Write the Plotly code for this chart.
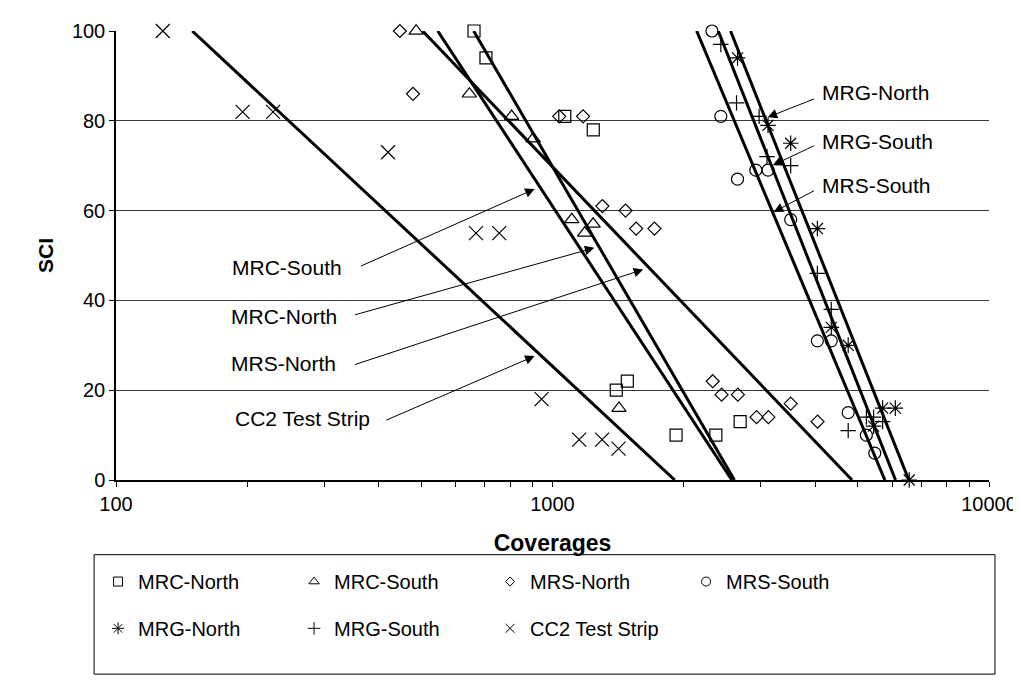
import numpy as np
import plotly.graph_objects as go

# ---------------- data ----------------
series_names = ["MRC-North", "MRC-South", "MRS-North", "MRS-South",
                "MRG-North", "MRG-South", "CC2 Test Strip"]

mrc_north_x = [661, 704, 1067, 1240, 1400, 1484, 1919, 2367, 2691]
mrc_north_y = [100, 94, 81, 78, 20, 22, 10, 10, 13]

mrc_south_x = [487, 645, 806, 903, 1107, 1185, 1239, 1420]
mrc_south_y = [100, 86, 81, 76, 58, 55, 57, 16]

mrs_north_x = [447, 479, 1036, 1175, 1301, 1470, 1555, 1712, 2328, 2440,
               2659, 2934, 3124, 3513, 4049]
mrs_north_y = [100, 86, 81, 81, 61, 60, 56, 56, 22, 19, 19, 14, 14, 17, 13]

mrs_south_x = [2319, 2430, 2654, 2923, 3117, 3513, 4044, 4351, 4758, 5237, 5474]
mrs_south_y = [100, 81, 67, 69, 69, 58, 31, 31, 15, 10, 6]

mrg_north_x = [2654, 3117, 3513, 4044, 4351, 4758, 5440, 5706, 6100, 6566]
mrg_north_y = [94, 79, 75, 56, 34, 30, 12, 16, 16, 0]

mrg_south_x = [2430, 2640, 2974, 3100, 3513, 4044, 4351, 4758, 5237, 5440, 5706]
mrg_south_y = [97, 84, 81, 72, 70, 46, 38, 11, 14, 14, 13]

cc2_x = [128, 195, 229, 420, 668, 755, 944, 1151, 1299, 1417]
cc2_y = [100, 82, 82, 73, 55, 55, 18, 9, 9, 7]

x_tick_vals = [100, 1000, 10000]
x_tick_text = ["100", "1000", "10000"]
y_tick_vals = [0, 20, 40, 60, 80, 100]

# callout labels: text position, arrow tail and arrow tip (data units)
label_texts = ["MRG-North", "MRG-South", "MRS-South",
               "MRC-South", "MRC-North", "MRS-North", "CC2 Test Strip"]
label_text_x = [4111, 4111, 4111, 333, 325, 323, 386]
label_text_y = [86.4, 75.4, 65.6, 47.3, 36.4, 26.0, 13.8]
label_anchor = ["left", "left", "left", "right", "right", "right", "right"]
label_tail_x = [4006, 4006, 4006, 361, 350, 350, 413]
label_tail_y = [85.0, 74.6, 64.6, 47.5, 36.7, 25.6, 13.2]
label_tip_x = [3112, 3196, 3213, 910, 1247, 1614, 910]
label_tip_y = [80.8, 70.1, 59.7, 64.8, 51.7, 46.9, 27.6]

# ---------------- styling ----------------
FONT = "Liberation Sans, Arial, Helvetica, sans-serif"
symbols = ["square-open", "triangle-up-open", "diamond-open", "circle-open",
           "asterisk-open", "cross-thin-open", "x-thin-open"]
sizes = [12, 12.5, 10, 12, 13, 11, 14]
legend_sizes = [9, 9, 7, 9, 10, 9, 9]

series_x = [mrc_north_x, mrc_south_x, mrs_north_x, mrs_south_x,
            mrg_north_x, mrg_south_x, cc2_x]
series_y = [mrc_north_y, mrc_south_y, mrs_north_y, mrs_south_y,
            mrg_north_y, mrg_south_y, cc2_y]

fig = go.Figure()

# logarithmic trendlines (least squares on log x), clipped to 0..100
for xs, ys in zip(series_x, series_y):
    m, b = np.polyfit(np.log10(xs), ys, 1)
    x_top = 10 ** ((100 - b) / m)
    x_bot = 10 ** ((0 - b) / m)
    fig.add_trace(go.Scatter(x=[x_top, x_bot], y=[100, 0], mode="lines",
                             line=dict(color="black", width=3),
                             showlegend=False, hoverinfo="skip"))

# data markers
for name, xs, ys, sym, sz in zip(series_names, series_x, series_y, symbols, sizes):
    fig.add_trace(go.Scatter(x=xs, y=ys, mode="markers", name=name,
                             marker=dict(symbol=sym, size=sz, color="black",
                                         line=dict(color="black", width=1.2)),
                             cliponaxis=False, showlegend=False))

# legend entries (two rows, as in the reference)
for i, (name, sym, sz) in enumerate(zip(series_names, symbols, legend_sizes)):
    fig.add_trace(go.Scatter(x=[None], y=[None], mode="markers", name=name,
                             marker=dict(symbol=sym, size=sz, color="black",
                                         line=dict(color="black", width=1)),
                             legend="legend" if i < 4 else "legend2"))

annotations = []
for t, tx, ty, anc, ax_, ay_, px_, py_ in zip(label_texts, label_text_x, label_text_y,
                                              label_anchor, label_tail_x, label_tail_y,
                                              label_tip_x, label_tip_y):
    annotations.append(dict(x=np.log10(tx), y=ty, xref="x", yref="y", text=t,
                            showarrow=False, xanchor=anc, yanchor="middle",
                            font=dict(family=FONT, size=21, color="black")))
    annotations.append(dict(x=np.log10(px_), y=py_, xref="x", yref="y", text="",
                            showarrow=True, axref="x", ayref="y",
                            ax=np.log10(ax_), ay=ay_, arrowhead=2, arrowsize=1.9,
                            arrowwidth=1, arrowcolor="black", standoff=0))

minor_vals = [m * 10 ** e for e in (2, 3) for m in range(2, 10)]

PW = 876.0
PH = 451.0
L, T = 108, 21

def px_to_paper_x(px):
    return (px - L) / PW

def px_to_paper_y(py):
    return (T + PH - py) / PH

fig.update_layout(
    width=1021, height=687,
    margin=dict(l=L, r=1021 - L - int(PW), t=T, b=687 - T - int(PH)),
    paper_bgcolor="white", plot_bgcolor="white",
    font=dict(family=FONT, size=20, color="black"),
    xaxis=dict(type="log", range=[2, 4], tickvals=x_tick_vals, ticktext=x_tick_text,
               showgrid=False, zeroline=False, showline=True, linecolor="black",
               linewidth=1.5, ticks="outside", ticklen=5, tickcolor="black",
               tickwidth=1, tickfont=dict(size=20),
               minor=dict(tickvals=minor_vals, ticks="outside", ticklen=5,
                          tickcolor="black", tickwidth=1, showgrid=False),
               title=dict(text="Coverages", standoff=21,
                          font=dict(size=23, weight="bold"))),
    yaxis=dict(range=[0, 100], tickvals=y_tick_vals, showgrid=True,
               gridcolor="#3a3a3a", gridwidth=1, zeroline=False, showline=True,
               linecolor="black", linewidth=1.5, ticks="outside", ticklen=5,
               tickcolor="black", tickwidth=1, tickfont=dict(size=20),
               title=dict(text="SCI", standoff=13,
                          font=dict(size=21, weight="bold"))),
    legend=dict(orientation="h", x=px_to_paper_x(90), y=px_to_paper_y(574),
                xanchor="left", yanchor="middle", entrywidth=151,
                entrywidthmode="pixels", bgcolor="rgba(0,0,0,0)",
                font=dict(family=FONT, size=20, color="black")),
    legend2=dict(orientation="h", x=px_to_paper_x(90), y=px_to_paper_y(621),
                 xanchor="left", yanchor="middle", entrywidth=151,
                 entrywidthmode="pixels", bgcolor="rgba(0,0,0,0)",
                 font=dict(family=FONT, size=20, color="black")),
    shapes=[dict(type="rect", xref="paper", yref="paper",
                 x0=px_to_paper_x(86), x1=px_to_paper_x(990),
                 y0=px_to_paper_y(547), y1=px_to_paper_y(667),
                 line=dict(color="black", width=1), fillcolor="rgba(0,0,0,0)")],
    annotations=annotations,
)

fig.write_html("out.html")
